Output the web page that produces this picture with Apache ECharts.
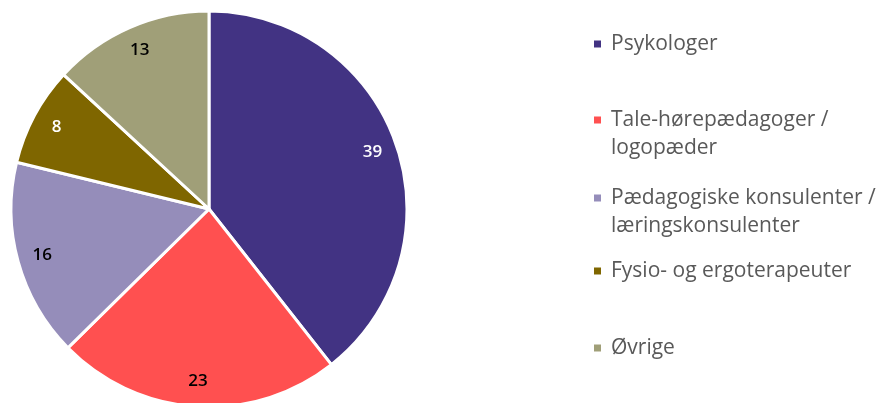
<!DOCTYPE html>
<html>
<head>
<meta charset="utf-8">
<script src="https://cdn.jsdelivr.net/npm/echarts@6/dist/echarts.min.js"></script>
<style>
  html, body { margin: 0; padding: 0; background: #fff; }
  #main { width: 885px; height: 403px; }
</style>
</head>
<body>
<div id="main"></div>
<script>
// data
var categories = ['Psykologer', 'Tale-hørepædagoger /\nlogopæder', 'Pædagogiske konsulenter /\nlæringskonsulenter', 'Fysio- og ergoterapeuter', 'Øvrige'];
var values = [39, 23, 16, 8, 13];
var colors = ['#423383', '#FF5050', '#958DBA', '#7F6600', '#A09F78'];
var labelColors = ['#fff', '#000', '#000', '#fff', '#000'];

var chart = echarts.init(document.getElementById('main'));

var pieData = categories.map(function (c, i) {
  return { name: c, value: values[i], itemStyle: { color: colors[i] } };
});
// invisible ring only used to place the value labels
var labelData = categories.map(function (c, i) {
  return {
    name: c, value: values[i],
    itemStyle: { color: 'rgba(0,0,0,0)', borderWidth: 0 },
    label: { color: labelColors[i] }
  };
});

// one legend per item, tops chosen so the marker sits on the first line
var legendTops = [30, 78, 156, 257, 334];
var legends = categories.map(function (c, i) {
  var multi = c.indexOf('\n') >= 0;
  return {
    data: [c],
    left: 592,
    top: legendTops[i],
    padding: 0,
    itemWidth: 9,
    itemHeight: 9,
    itemGap: 0,
    selectedMode: false,
    icon: 'rect',
    // blank first line keeps the marker level with the first text line
    formatter: function (name) { return multi ? ' \n' + name : name; },
    textStyle: {
      fontFamily: '"Open Sans", sans-serif',
      fontSize: 21,
      color: '#595959',
      lineHeight: 28,
      padding: [0, 0, 0, 4]
    }
  };
});

chart.setOption({
  animation: false,
  legend: legends,
  series: [
    {
      type: 'pie',
      center: [209, 209],
      radius: [0, 198],
      startAngle: 90,
      clockwise: true,
      silent: true,
      label: { show: false },
      labelLine: { show: false },
      itemStyle: { borderColor: '#fff', borderWidth: 3 },
      data: pieData
    },
    {
      type: 'pie',
      center: [209, 209],
      radius: [144, 196],
      startAngle: 90,
      clockwise: true,
      silent: true,
      label: {
        show: true,
        position: 'inside',
        formatter: '{c}',
        fontFamily: '"Open Sans", sans-serif',
        fontSize: 17,
        fontWeight: 600
      },
      labelLine: { show: false },
      data: labelData
    }
  ]
});
</script>
</body>
</html>
